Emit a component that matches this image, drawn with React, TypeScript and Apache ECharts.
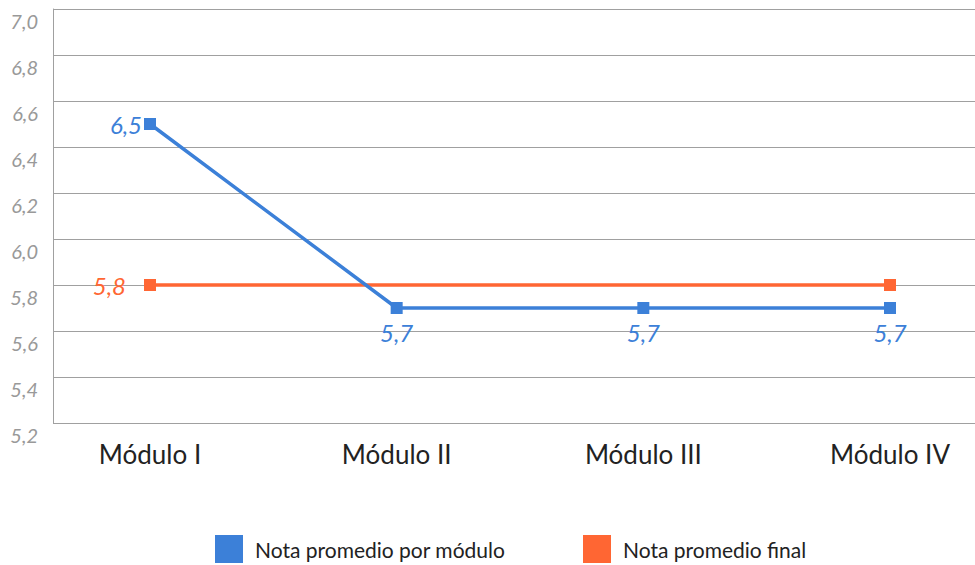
import React, { useEffect, useRef } from "react";
import * as echarts from "echarts";

const categories = ["Módulo I", "Módulo II", "Módulo III", "Módulo IV"];
const moduleAverages = [6.5, 5.7, 5.7, 5.7];
const finalAverage = [5.8, 5.8, 5.8, 5.8];
const seriesNames = ["Nota promedio por módulo", "Nota promedio final"];
const yMin = 5.2;
const yMax = 7.0;
const yStep = 0.2;

const BLUE = "#3c80d8";
const ORANGE = "#ff6633";
const GRID_GRAY = "#a0a0a0";

const fmt = (v: number) => v.toFixed(1).replace(".", ",");

export default function App() {
  const ref = useRef<HTMLDivElement>(null);

  useEffect(() => {
    if (!ref.current) return;
    const chart = echarts.init(ref.current, null, { renderer: "svg" });

    const labelFont = {
      fontFamily: "Lato",
      fontStyle: "italic" as const,
      fontSize: 24,
    };

    const blueData = moduleAverages.map((v, i) => ({
      value: v,
      label:
        i === 0
          ? { show: true, position: "left", distance: 2, ...labelFont, color: BLUE, formatter: (p: any) => fmt(p.value) }
          : { show: true, position: "bottom", distance: 6, ...labelFont, color: BLUE, formatter: (p: any) => fmt(p.value) },
    }));

    const orangeData = finalAverage.map((v, i) => {
      const last = i === finalAverage.length - 1;
      if (i === 0) {
        return {
          value: v,
          label: { show: true, position: "left", distance: 18, ...labelFont, color: ORANGE, formatter: (p: any) => fmt(p.value) },
        };
      }
      if (last) return { value: v };
      return { value: v, symbol: "none" };
    });

    const legendBase = {
      top: 535,
      padding: 0,
      itemWidth: 28,
      itemHeight: 28,
      icon: "rect",
      textStyle: { fontFamily: "Lato", fontSize: 21, color: "#222222", padding: [2, 0, 0, 7] },
    };

    chart.setOption({
      animation: false,
      grid: [
        { left: 53, right: 0, top: 9, height: 414 },
        { left: 150, right: 85, top: 9, height: 414 },
      ],
      xAxis: [
        { type: "category", gridIndex: 0, data: categories, show: false },
        {
          type: "category",
          gridIndex: 1,
          data: categories,
          boundaryGap: false,
          axisLine: { show: false },
          axisTick: { show: false },
          splitLine: { show: false },
          axisLabel: {
            margin: 18,
            fontFamily: "Lato",
            fontSize: 26,
            color: "#222222",
          },
        },
      ],
      yAxis: [
        {
          type: "value",
          gridIndex: 0,
          min: yMin,
          max: yMax,
          interval: yStep,
          axisLine: { show: true, lineStyle: { color: GRID_GRAY, width: 1 } },
          axisTick: { show: false },
          splitLine: { show: true, lineStyle: { color: GRID_GRAY, width: 1 } },
          axisLabel: {
            margin: 15,
            verticalAlign: "top",
            padding: [2, 0, 0, 0],
            fontFamily: "Lato",
            fontStyle: "italic",
            fontSize: 20,
            color: "#999999",
            formatter: (v: number) => fmt(v),
          },
        },
        {
          type: "value",
          gridIndex: 1,
          min: yMin,
          max: yMax,
          interval: yStep,
          show: false,
          splitLine: { show: false },
        },
      ],
      legend: [
        { ...legendBase, data: [seriesNames[0]], left: 215 },
        { ...legendBase, data: [seriesNames[1]], left: 583 },
      ],
      series: [
        {
          name: seriesNames[1],
          type: "line",
          xAxisIndex: 1,
          yAxisIndex: 1,
          data: orangeData,
          symbol: "rect",
          symbolSize: 12,
          showAllSymbol: true,
          color: ORANGE,
          lineStyle: { color: ORANGE, width: 3.5 },
          itemStyle: { color: ORANGE },
          z: 2,
        },
        {
          name: seriesNames[0],
          type: "line",
          xAxisIndex: 1,
          yAxisIndex: 1,
          data: blueData,
          symbol: "rect",
          symbolSize: 12,
          showAllSymbol: true,
          color: BLUE,
          lineStyle: { color: BLUE, width: 3.5 },
          itemStyle: { color: BLUE },
          z: 3,
        },
      ],
    });

    return () => chart.dispose();
  }, []);

  return (
    <div
      ref={ref}
      style={{ position: "absolute", left: 0, top: 0, width: 975, height: 565, background: "#ffffff" }}
    />
  );
}
